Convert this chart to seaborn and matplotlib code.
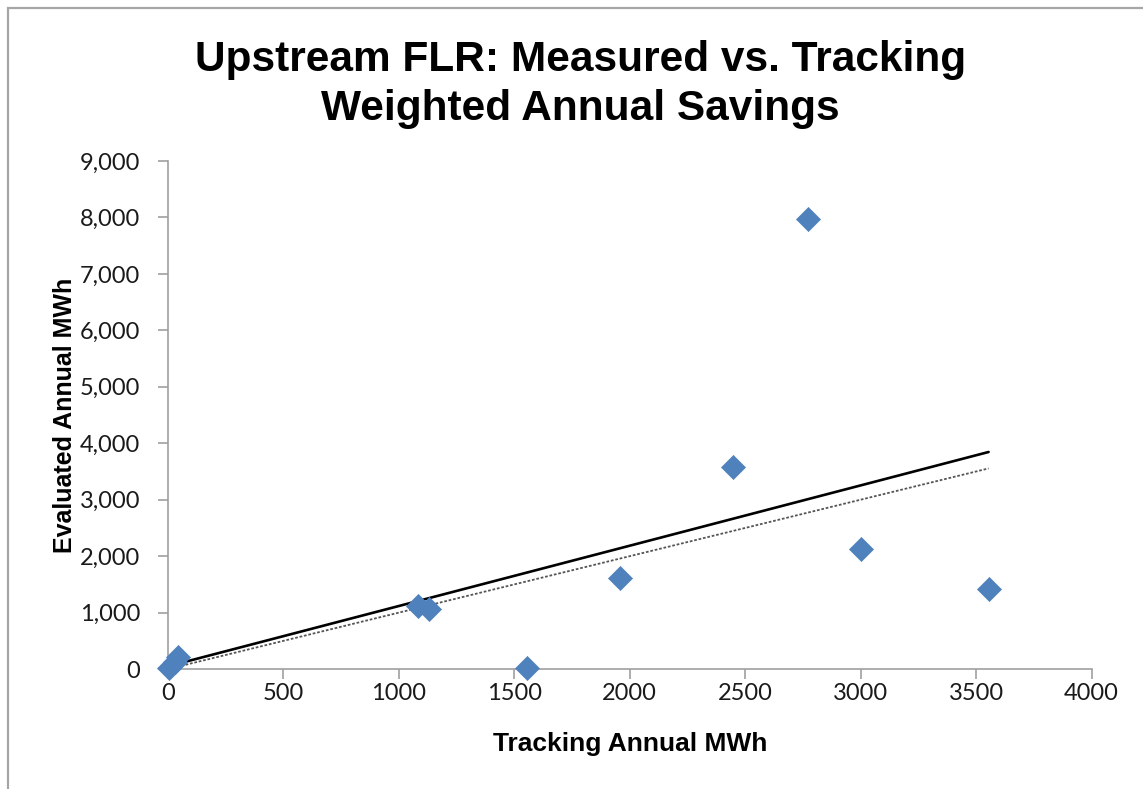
import matplotlib
matplotlib.use("Agg")
import matplotlib.pyplot as plt
import matplotlib.ticker as mticker
from matplotlib.patches import Rectangle
import pandas as pd
import seaborn as sns

# data
tracking_mwh = [5, 30, 45, 1082, 1130, 1554, 1957, 2446, 2771, 3000, 3554]
evaluated_mwh = [20, 120, 210, 1116, 1063, 18, 1612, 3579, 7973, 2126, 1417]

# trend line (solid) and 1:1 line (dotted) end points
trend_x = [10, 3554]
trend_y = [60, 3845]
one_to_one_x = [0, 3554]
one_to_one_y = [0, 3554]

x_ticks = [0, 500, 1000, 1500, 2000, 2500, 3000, 3500, 4000]
y_ticks = [0, 1000, 2000, 3000, 4000, 5000, 6000, 7000, 8000, 9000]

df = pd.DataFrame({"tracking": tracking_mwh, "evaluated": evaluated_mwh})

sns.set_style("white")
plt.rcParams["font.family"] = ["Liberation Sans", "DejaVu Sans"]
plt.rcParams["text.color"] = "black"
plt.rcParams["axes.labelcolor"] = "black"

fig = plt.figure(figsize=(11.43, 7.89), dpi=100)
ax = fig.add_axes([0.147, 0.152, 0.808, 0.644])

# outer chart border (only top and left edges visible)
fig.patches.append(Rectangle((0.007, -0.1), 1.2, 1.09, transform=fig.transFigure,
                             fill=False, edgecolor="#a6a6a6", linewidth=1.6))

ax.plot(one_to_one_x, one_to_one_y, color="#555555", linewidth=1.3,
        linestyle=(0, (1.5, 1)), zorder=2)
ax.plot(trend_x, trend_y, color="black", linewidth=1.9, zorder=2)

sns.scatterplot(data=df, x="tracking", y="evaluated", ax=ax, marker="D",
                s=150, color="#4f81bd", edgecolor="#4f81bd", linewidth=0.5,
                zorder=3, clip_on=False)

ax.set_xlim(0, 4000)
ax.set_ylim(0, 9000)
ax.set_xticks(x_ticks)
ax.set_yticks(y_ticks)
ax.yaxis.set_major_formatter(mticker.FuncFormatter(lambda v, p: f"{int(v):,}"))

for side in ["top", "right"]:
    ax.spines[side].set_visible(False)
for side in ["left", "bottom"]:
    ax.spines[side].set_color("#a0a0a0")
    ax.spines[side].set_linewidth(1.2)

ax.tick_params(axis="both", direction="out", length=7, width=1.2,
               color="#a0a0a0", labelsize=17, labelcolor="#1a1a1a")
ax.tick_params(axis="x", bottom=True, pad=3)
ax.tick_params(axis="y", left=True, pad=13)
for lbl in ax.get_xticklabels() + ax.get_yticklabels():
    lbl.set_family(["Lato", "DejaVu Sans"])

ax.set_xlabel("Tracking Annual MWh", fontsize=19, fontweight="bold", labelpad=20)
ax.set_ylabel("Evaluated Annual MWh", fontsize=18, fontweight="bold", labelpad=2)

fig.text(0.508, 0.893, "Upstream FLR: Measured vs. Tracking\nWeighted Annual Savings",
         ha="center", va="center", fontsize=30.5, fontweight="bold",
         linespacing=1.27)

fig.savefig("out.png", dpi=100)
